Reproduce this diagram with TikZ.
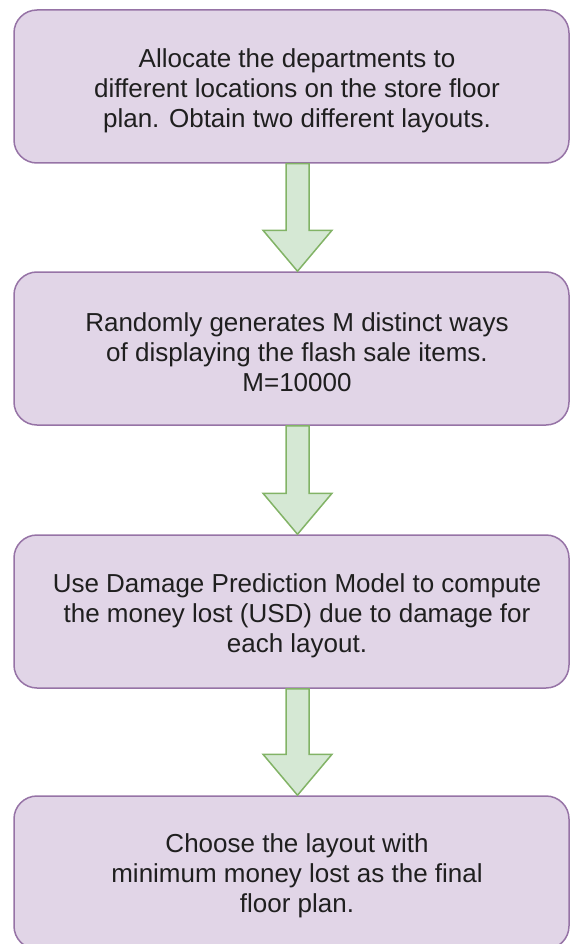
\documentclass[tikz,border=0pt]{standalone}
\usepackage{fontspec}
\setmainfont{Liberation Sans}
\usetikzlibrary{calc}
\definecolor{boxfill}{HTML}{E1D5E7}
\definecolor{boxline}{HTML}{9673A6}
\definecolor{arrfill}{HTML}{D5E8D4}
\definecolor{arrline}{HTML}{82B366}
\tikzset{
  stepbox/.style={draw=boxline, fill=boxfill, line width=1.5pt, rounded corners=23pt,
    minimum width=555pt, minimum height=153pt, inner sep=0pt},
  steptext/.style={font=\fontsize{26}{29.8}\selectfont, align=center, text=black!88, inner sep=0pt},
  flowarrow/.style={draw=arrline, fill=arrfill, line width=1.5pt, line join=miter}
}
% block arrow from the bottom of one box to the top of the next
\newcommand\blockarrow[2]{%
  \draw[flowarrow] let \p1=(#1.south), \p2=(#2.north) in
    (\x1-5.5pt,\y1) -- (\x1+17.5pt,\y1) -- (\x1+17.5pt,\y2+41pt) -- (\x1+40.5pt,\y2+41pt)
    -- (\x1+6pt,\y2) -- (\x1-28.5pt,\y2+41pt) -- (\x1-5.5pt,\y2+41pt) -- cycle;}
\begin{document}
\begin{tikzpicture}[x=1pt,y=-1pt]
\useasboundingbox (0,0) rectangle (570,944);
\clip (0,0) rectangle (570,944);

\node[stepbox] (b1) at (291.5,86.5) {};
\node[stepbox] (b2) at (291.5,348.5) {};
\node[stepbox] (b3) at (291.5,611.5) {};
\node[stepbox] (b4) at (291.5,872.5) {};

\node[steptext] (t1) at (297,91) {Allocate the departments to\\different locations on the store floor\\plan. Obtain two different layouts.};
\node[steptext] (t2) at (297,352) {Randomly generates M distinct ways\\of displaying the flash sale items.\\M=10000};
\node[steptext] (t3) at (297,616) {Use Damage Prediction Model to compute\\the money lost (USD) due to damage for\\each layout.};
\node[steptext] (t4) at (297,876) {Choose the layout with\\minimum money lost as the final\\floor plan.};

\blockarrow{b1}{b2}
\blockarrow{b2}{b3}
\blockarrow{b3}{b4}
\end{tikzpicture}
\end{document}
